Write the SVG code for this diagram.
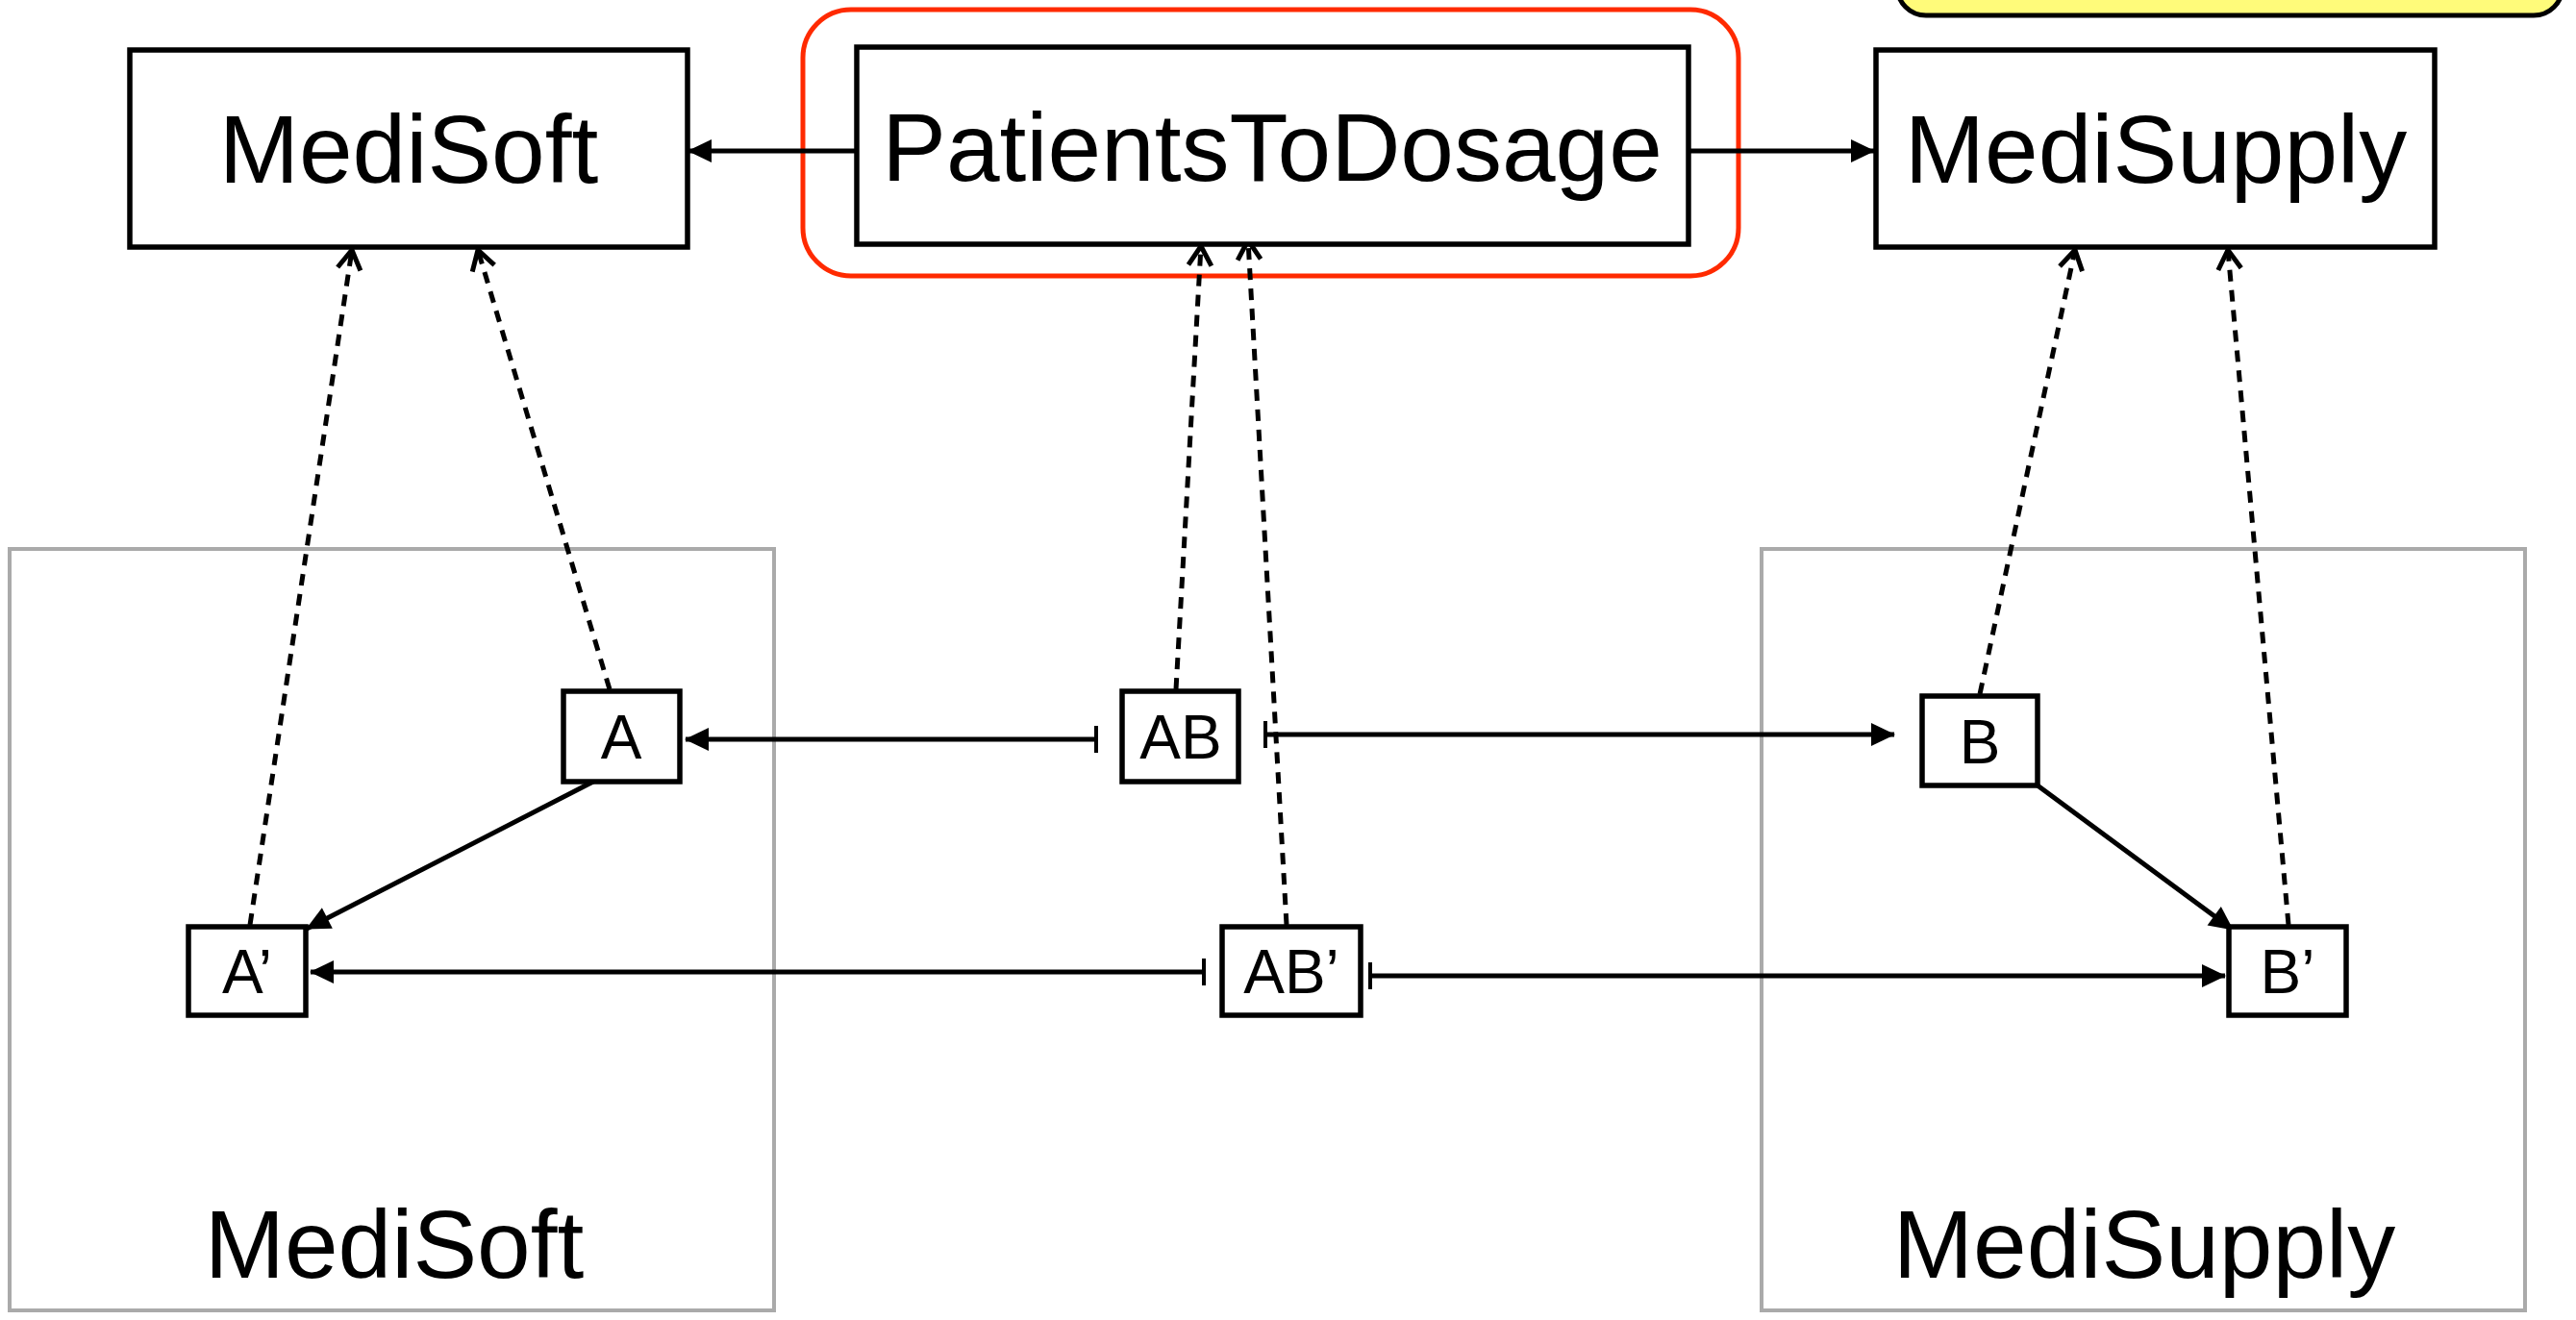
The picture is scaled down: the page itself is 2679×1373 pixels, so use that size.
<svg xmlns="http://www.w3.org/2000/svg" width="2679" height="1373" viewBox="0 0 2679 1373">
<style>
.box{fill:#fff;stroke:#000;stroke-width:5.5}
.cont{fill:none;stroke:#aaa;stroke-width:4}
.big{font-family:"Liberation Sans",Arial,Helvetica,sans-serif;font-size:100px;fill:#000;text-anchor:middle}
.small{font-family:"Liberation Sans",Arial,Helvetica,sans-serif;font-size:64px;fill:#000;text-anchor:middle}
.solid{fill:none;stroke:#000;stroke-width:5}
.dash{fill:none;stroke:#000;stroke-width:5;stroke-dasharray:12 9}
</style>
<defs>
<marker id="fa" markerUnits="userSpaceOnUse" markerWidth="26" markerHeight="26" refX="24" refY="12" orient="auto" overflow="visible">
<path d="M0,0 L25,12 L0,24 z" fill="#000"/>
</marker>
<marker id="oa" markerUnits="userSpaceOnUse" markerWidth="24" markerHeight="30" refX="22" refY="13" orient="auto" overflow="visible">
<path d="M2,1 L22,13 L2,25" fill="none" stroke="#000" stroke-width="5"/>
</marker>
<marker id="bar" markerUnits="userSpaceOnUse" markerWidth="6" markerHeight="28" refX="3" refY="14" orient="auto" overflow="visible">
<path d="M3,0 L3,28" stroke="#000" stroke-width="4"/>
</marker>
</defs>

<g id="note">
<rect x="1973" y="-60" width="692" height="76" rx="30" ry="30" fill="#fffb7a" stroke="#000" stroke-width="5"/>
</g>

<g id="container-medisoft">
<rect class="cont" x="10" y="571" width="795" height="792"/>
<text class="big" x="410" y="1329">MediSoft</text>
</g>
<g id="container-medisupply">
<rect class="cont" x="1832" y="571" width="794" height="792"/>
<text class="big" x="2230" y="1329">MediSupply</text>
</g>

<g id="highlight">
<rect x="835" y="10" width="973" height="277" rx="50" ry="50" fill="none" stroke="#ff2a00" stroke-width="5"/>
</g>

<g id="connectors">
<line class="solid" x1="890" y1="157" x2="716" y2="157" marker-end="url(#fa)"/>
<line class="solid" x1="1756" y1="157" x2="1949" y2="157" marker-end="url(#fa)"/>
<line class="solid" x1="1140" y1="769" x2="713" y2="769" marker-start="url(#bar)" marker-end="url(#fa)"/>
<line class="solid" x1="1316" y1="764" x2="1970" y2="764" marker-start="url(#bar)" marker-end="url(#fa)"/>
<line class="solid" x1="1252" y1="1011" x2="323" y2="1011" marker-start="url(#bar)" marker-end="url(#fa)"/>
<line class="solid" x1="1425" y1="1015" x2="2314" y2="1015" marker-start="url(#bar)" marker-end="url(#fa)"/>
<line class="solid" x1="617" y1="813" x2="319" y2="966" marker-end="url(#fa)"/>
<line class="solid" x1="2119" y1="817" x2="2322" y2="967" marker-end="url(#fa)"/>
<line class="dash" x1="260" y1="962" x2="366" y2="260" marker-end="url(#oa)"/>
<line class="dash" x1="634" y1="717" x2="497" y2="260" marker-end="url(#oa)"/>
<line class="dash" x1="1223" y1="717" x2="1249" y2="256" marker-end="url(#oa)"/>
<line class="dash" x1="1338" y1="962" x2="1298" y2="250" marker-end="url(#oa)"/>
<line class="dash" x1="2059" y1="722" x2="2158" y2="260" marker-end="url(#oa)"/>
<line class="dash" x1="2380" y1="962" x2="2317" y2="260" marker-end="url(#oa)"/>
</g>

<g id="node-medisoft">
<rect class="box" x="135" y="52" width="580" height="205"/>
<text class="big" x="425" y="190">MediSoft</text>
</g>
<g id="node-patientstodosage">
<rect class="box" x="891" y="49" width="865" height="205"/>
<text class="big" x="1323" y="188">PatientsToDosage</text>
</g>
<g id="node-medisupply">
<rect class="box" x="1951" y="52" width="581" height="205"/>
<text class="big" x="2242" y="190">MediSupply</text>
</g>

<g id="node-A">
<rect class="box" x="586" y="719" width="121" height="94"/>
<text class="small" x="646" y="789">A</text>
</g>
<g id="node-AB">
<rect class="box" x="1167" y="719" width="121" height="94"/>
<text class="small" x="1228" y="789">AB</text>
</g>
<g id="node-B">
<rect class="box" x="1999" y="724" width="120" height="93"/>
<text class="small" x="2059" y="794">B</text>
</g>
<g id="node-A2">
<rect class="box" x="196" y="964" width="122" height="92"/>
<text class="small" x="257" y="1033">A’</text>
</g>
<g id="node-AB2">
<rect class="box" x="1271" y="964" width="144" height="92"/>
<text class="small" x="1343" y="1033">AB’</text>
</g>
<g id="node-B2">
<rect class="box" x="2318" y="964" width="122" height="92"/>
<text class="small" x="2379" y="1033">B’</text>
</g>
</svg>
